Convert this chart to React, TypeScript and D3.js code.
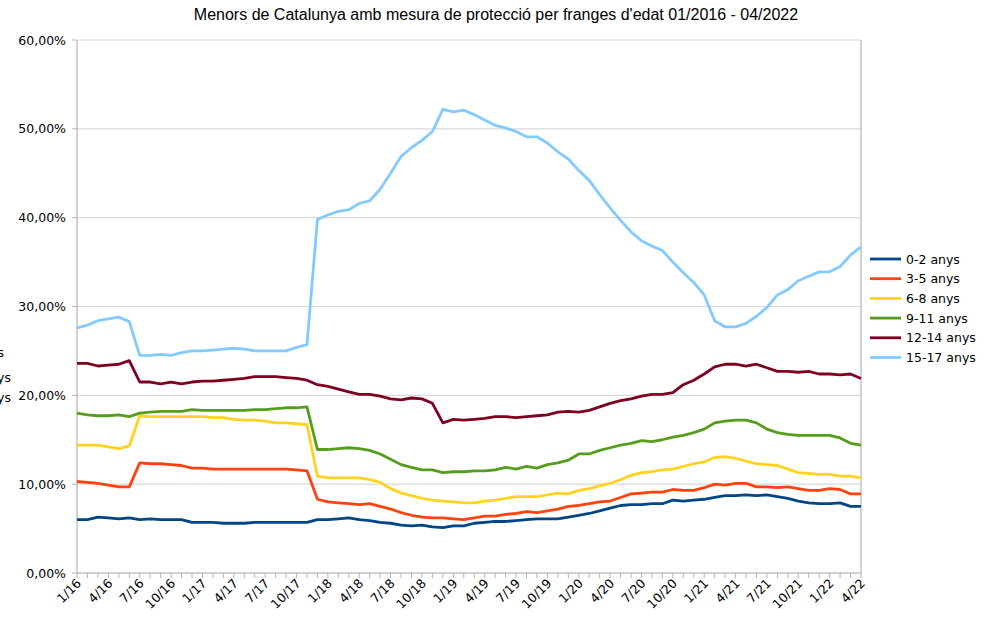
import React from "react";
import * as d3 from "d3";

const title = "Menors de Catalunya amb mesura de protecció per franges d'edat 01/2016 - 04/2022";

const seriesNames = ["0-2 anys", "3-5 anys", "6-8 anys", "9-11 anys", "12-14 anys", "15-17 anys"];
const seriesColors = ["#004586", "#ff420e", "#ffd320", "#579d1c", "#7e0021", "#83caff"];

// monthly labels 1/16 .. 4/22 (76 months)
const months: string[] = [];
for (let y = 16; y <= 22; y++) {
  for (let m = 1; m <= 12; m++) {
    if (y === 22 && m > 4) break;
    months.push(`${m}/${y}`);
  }
}

const age0_2 = [
  6.0, 6.0, 6.3, 6.2, 6.1, 6.2, 6.0, 6.1, 6.0, 6.0, 6.0, 5.7, 5.7, 5.7, 5.6, 5.6, 5.6, 5.7, 5.7, 5.7,
  5.7, 5.7, 5.7, 6.0, 6.0, 6.1, 6.2, 6.0, 5.9, 5.7, 5.6, 5.4, 5.3, 5.4, 5.2, 5.1, 5.3, 5.3, 5.6, 5.7,
  5.8, 5.8, 5.9, 6.0, 6.1, 6.1, 6.1, 6.3, 6.5, 6.7, 7.0, 7.3, 7.6, 7.7, 7.7, 7.8, 7.8, 8.2, 8.1, 8.2,
  8.3, 8.5, 8.7, 8.7, 8.8, 8.7, 8.8, 8.6, 8.4, 8.1, 7.9, 7.8, 7.8, 7.9, 7.5, 7.5,
];
const age3_5 = [
  10.3, 10.2, 10.1, 9.9, 9.7, 9.7, 12.4, 12.3, 12.3, 12.2, 12.1, 11.8, 11.8, 11.7, 11.7, 11.7, 11.7, 11.7, 11.7, 11.7,
  11.7, 11.6, 11.5, 8.3, 8.0, 7.9, 7.8, 7.7, 7.8, 7.5, 7.2, 6.8, 6.5, 6.3, 6.2, 6.2, 6.1, 6.0, 6.2, 6.4,
  6.4, 6.6, 6.7, 6.9, 6.8, 7.0, 7.2, 7.5, 7.6, 7.8, 8.0, 8.1, 8.5, 8.9, 9.0, 9.1, 9.1, 9.4, 9.3, 9.3,
  9.6, 10.0, 9.9, 10.1, 10.1, 9.7, 9.7, 9.6, 9.7, 9.5, 9.3, 9.3, 9.5, 9.4, 8.9, 8.9,
];
const age6_8 = [
  14.4, 14.4, 14.4, 14.2, 14.0, 14.3, 17.7, 17.6, 17.6, 17.6, 17.6, 17.6, 17.6, 17.5, 17.5, 17.3, 17.2, 17.2, 17.1, 16.9,
  16.9, 16.8, 16.7, 10.9, 10.7, 10.7, 10.7, 10.7, 10.5, 10.2, 9.5, 9.0, 8.7, 8.4, 8.2, 8.1, 8.0, 7.9, 7.9, 8.1,
  8.2, 8.4, 8.6, 8.6, 8.6, 8.8, 9.0, 8.9, 9.3, 9.5, 9.8, 10.1, 10.5, 11.0, 11.3, 11.4, 11.6, 11.7, 12.0, 12.3,
  12.5, 13.0, 13.1, 12.9, 12.6, 12.3, 12.2, 12.1, 11.7, 11.3, 11.2, 11.1, 11.1, 10.9, 10.9, 10.7,
];
const age9_11 = [
  18.0, 17.8, 17.7, 17.7, 17.8, 17.6, 18.0, 18.1, 18.2, 18.2, 18.2, 18.4, 18.3, 18.3, 18.3, 18.3, 18.3, 18.4, 18.4, 18.5,
  18.6, 18.6, 18.7, 13.9, 13.9, 14.0, 14.1, 14.0, 13.8, 13.4, 12.8, 12.2, 11.9, 11.6, 11.6, 11.3, 11.4, 11.4, 11.5, 11.5,
  11.6, 11.9, 11.7, 12.0, 11.8, 12.2, 12.4, 12.7, 13.4, 13.4, 13.8, 14.1, 14.4, 14.6, 14.9, 14.8, 15.0, 15.3, 15.5, 15.8,
  16.2, 16.9, 17.1, 17.2, 17.2, 16.9, 16.2, 15.8, 15.6, 15.5, 15.5, 15.5, 15.5, 15.2, 14.6, 14.4,
];
const age12_14 = [
  23.6, 23.6, 23.3, 23.4, 23.5, 23.9, 21.5, 21.5, 21.3, 21.5, 21.3, 21.5, 21.6, 21.6, 21.7, 21.8, 21.9, 22.1, 22.1, 22.1,
  22.0, 21.9, 21.7, 21.2, 21.0, 20.7, 20.4, 20.1, 20.1, 19.9, 19.6, 19.5, 19.7, 19.6, 19.1, 16.9, 17.3, 17.2, 17.3, 17.4,
  17.6, 17.6, 17.5, 17.6, 17.7, 17.8, 18.1, 18.2, 18.1, 18.3, 18.7, 19.1, 19.4, 19.6, 19.9, 20.1, 20.1, 20.3, 21.2, 21.7,
  22.4, 23.2, 23.5, 23.5, 23.3, 23.5, 23.1, 22.7, 22.7, 22.6, 22.7, 22.4, 22.4, 22.3, 22.4, 21.9,
];
const age15_17 = [
  27.6, 27.9, 28.4, 28.6, 28.8, 28.3, 24.5, 24.5, 24.6, 24.5, 24.8, 25.0, 25.0, 25.1, 25.2, 25.3, 25.2, 25.0, 25.0, 25.0,
  25.0, 25.4, 25.7, 39.8, 40.3, 40.7, 40.9, 41.6, 41.9, 43.2, 45.0, 46.9, 47.9, 48.7, 49.7, 52.2, 51.9, 52.1, 51.6, 51.0,
  50.4, 50.1, 49.7, 49.1, 49.1, 48.4, 47.4, 46.6, 45.3, 44.2, 42.6, 41.1, 39.7, 38.4, 37.4, 36.8, 36.3, 35.0, 33.8, 32.7,
  31.3, 28.4, 27.7, 27.7, 28.1, 28.9, 29.9, 31.3, 31.9, 32.9, 33.4, 33.9, 33.9, 34.5, 35.8, 36.7,
];

const seriesValues = [age0_2, age3_5, age6_8, age9_11, age12_14, age15_17];
const yTicks = [0, 10, 20, 30, 40, 50, 60];

const W = 999;
const H = 617;
const left = 77;
const right = 861;
const top = 40;
const bottom = 573;

export default function App() {
  const x = d3.scaleLinear().domain([0, months.length - 1]).range([left, right]);
  const y = d3.scaleLinear().domain([0, 60]).range([bottom, top]);
  const line = d3
    .line<number>()
    .x((_, i) => x(i))
    .y((d) => y(d))
    .curve(d3.curveLinear);

  const axisFont = "'DejaVu Sans', sans-serif";
  const fmt = (v: number) => v.toFixed(2).replace(".", ",") + "%";

  return (
    <svg
      width={W}
      height={H}
      style={{ position: "absolute", left: 0, top: 0, background: "#fff" }}
    >
      <rect x={0} y={0} width={W} height={H} fill="#fff" />
      <text
        x={496}
        y={20}
        textAnchor="middle"
        fontFamily="'Liberation Sans', Arial, sans-serif"
        fontSize={16}
        fill="#000"
      >
        {title}
      </text>

      {/* grid lines */}
      {yTicks.map((t) => (
        <line key={"g" + t} x1={left} x2={right} y1={y(t)} y2={y(t)} stroke="#d9d9d9" strokeWidth={1.2} />
      ))}
      {/* y ticks */}
      {yTicks.map((t) => (
        <line key={"yt" + t} x1={left - 5} x2={left} y1={y(t)} y2={y(t)} stroke="#b3b3b3" strokeWidth={1} />
      ))}
      {yTicks.map((t) => (
        <text
          key={"yl" + t}
          x={66}
          y={y(t) + 4.5}
          textAnchor="end"
          fontFamily={axisFont}
          fontSize={12.5}
          fill="#000"
        >
          {fmt(t)}
        </text>
      ))}
      {/* frame */}
      <line x1={left} x2={left} y1={top} y2={bottom} stroke="#b3b3b3" strokeWidth={1.2} />
      <line x1={right} x2={right} y1={top} y2={bottom} stroke="#b3b3b3" strokeWidth={1.2} />
      <line x1={left} x2={right} y1={bottom} y2={bottom} stroke="#b3b3b3" strokeWidth={1.2} />

      {/* x ticks */}
      {months.map((m, i) => (
        <line key={"xt" + i} x1={x(i)} x2={x(i)} y1={bottom} y2={bottom + 5} stroke="#b3b3b3" strokeWidth={1} />
      ))}
      {months.map((m, i) =>
        i % 3 === 0 ? (
          <text
            key={"xl" + i}
            transform={`translate(${x(i) + 5},${bottom + 11}) rotate(-45)`}
            textAnchor="end"
            fontFamily={axisFont}
            fontSize={12.5}
            fill="#000"
          >
            {m}
          </text>
        ) : null
      )}

      {/* series */}
      {seriesValues.map((vals, s) => (
        <path
          key={"s" + s}
          d={line(vals) || ""}
          fill="none"
          stroke={seriesColors[s]}
          strokeWidth={2.8}
          strokeLinejoin="round"
        />
      ))}

      {/* legend */}
      {seriesNames.map((n, s) => {
        const ly = 259 + s * 19.7;
        return (
          <g key={"lg" + s}>
            <line x1={870} x2={901} y1={ly} y2={ly} stroke={seriesColors[s]} strokeWidth={2.8} />
            <text x={906} y={ly + 4.5} fontFamily={axisFont} fontSize={12.5} fill="#000">
              {n}
            </text>
          </g>
        );
      })}

      {/* clipped remnants of another legend at the left edge, as in the reference */}
      <text x={4} y={357} textAnchor="end" fontFamily={axisFont} fontSize={12.5} fill="#000">anys</text>
      <text x={11} y={382} textAnchor="end" fontFamily={axisFont} fontSize={12.5} fill="#000">anys</text>
      <text x={11} y={402} textAnchor="end" fontFamily={axisFont} fontSize={12.5} fill="#000">anys</text>
    </svg>
  );
}
